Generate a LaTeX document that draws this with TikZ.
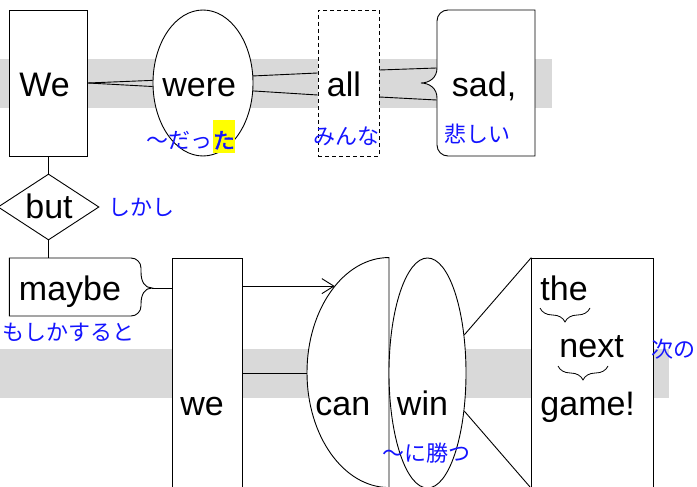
\documentclass[tikz,border=0pt]{standalone}
\usepackage{fontspec}
\setmainfont{Liberation Sans}
\newfontfamily\jpFont[AutoFakeBold=2]{Noto Sans CJK JP}
\usetikzlibrary{shapes.geometric,arrows.meta,decorations.pathreplacing}

\definecolor{bandColor}{RGB}{217,217,217}
\definecolor{noteColor}{RGB}{20,20,255}
\definecolor{markColor}{RGB}{255,255,0}

\begin{document}
\begin{tikzpicture}[x=1pt,y=-1pt,line width=0.9pt,
    word/.style={inner sep=0pt,font=\fontsize{34}{34}\selectfont},
    note/.style={inner sep=0pt,text=noteColor,font=\jpFont\fontsize{22}{22}\selectfont},
    box/.style={draw,fill=white,inner sep=0pt},
    brace/.style={decorate,decoration={brace,mirror,amplitude=14pt},line width=0.8pt}]
  \useasboundingbox (0,0) rectangle (697,487);
  \clip (0,0) rectangle (697,487);
  % Bands
  \fill[bandColor] (0,59) rectangle (552,108);
  \fill[bandColor] (0,349) rectangle (669,398);
  % Top row
  \node[box,rectangle,minimum width=78pt,minimum height=146pt] (We) at (48.5,83) {};
  \node[box,ellipse,minimum width=100pt,minimum height=146pt] (were) at (203,83) {};
  \node[box,rectangle,dash pattern=on 4pt off 3pt,minimum width=61pt,minimum height=146pt] (all) at (348.5,83) {};
  \node[inner sep=0pt,minimum width=98pt,minimum height=146pt] (sad) at (486,83) {};
  \draw[fill=white] (535,10) -- (448,10) arc[start angle=90,end angle=180,radius=11pt] -- (437,68)
    .. controls (437,78) and (429,83) .. (421,83) .. controls (429,83) and (437,88) .. (437,98)
    -- (437,145) arc[start angle=180,end angle=270,radius=11pt] -- (535,156) -- cycle;
  \node[box,diamond,minimum width=101pt,minimum height=66pt] (but) at (48.5,207) {};
  % Bottom row
  \node[inner sep=0pt,minimum width=132pt,minimum height=58pt] (maybe) at (75.5,287) {};
  \draw[fill=white] (9.3,258) -- (131,258) arc[start angle=90,end angle=0,radius=10pt] -- (141,272)
    .. controls (141,282) and (145,288) .. (152,288) .. controls (145,288) and (141,294) .. (141,304)
    -- (141,306) arc[start angle=0,end angle=-90,radius=10pt] -- (9.3,316) -- cycle;
  \coordinate (maybeTip) at (152,288);
  \node[box,rectangle,minimum width=70pt,minimum height=230pt] (we) at (207,373) {};
  \node[inner sep=0pt,ellipse,minimum width=164pt,minimum height=230pt] (can) at (389,373) {};
  \draw[fill=white] (can.north) arc[start angle=90,end angle=270,x radius=82pt,y radius=115pt] -- cycle;
  \node[box,ellipse,minimum width=77pt,minimum height=230pt] (win) at (427.5,373) {};
  \node[box,rectangle,minimum width=121.5pt,minimum height=230pt] (phrase) at (592.5,373) {};
  % Connectors
  \draw (We.east) -- (were.177);
  \draw (We.east) -- (were.184);
  \draw (were.8) -- ([yshift=10pt]all.west);
  \draw (were.-9) -- ([yshift=-12pt]all.west);
  \draw ([yshift=13pt]all.east) -- ([yshift=15pt]sad.west);
  \draw ([yshift=-14pt]all.east) -- ([yshift=-17pt]sad.west);
  \draw (We.south) -- (but.north);
  \draw (but.south) -- (but.south |- maybe.north);
  \draw (maybeTip) -- (maybeTip -| we.west);
  \draw[-{Straight Barb[length=12pt,width=15pt]}] (we.east |- can.122.8) -- (can.122.8);
  \draw (we.east |- can.west) -- (can.west);
  \draw (win.46) -- (phrase.north west);
  \draw (win.-46) -- (phrase.south west);
  % Words
  \node[word,anchor=base west] (tWe) at (19,97) {We};
  \node[word,anchor=base west] (tWere) at (162,97) {were};
  \node[word,anchor=base west] (tAll) at (326.5,97) {all};
  \node[word,anchor=base west] (tSad) at (451.5,97) {sad,};
  \node[word,anchor=base] (tBut) at (49,218) {but};
  \node[word,anchor=base west] (tMaybe) at (18.5,300) {maybe};
  \node[word,anchor=base west] (tWe2) at (180,415) {we};
  \node[word,anchor=base west] (tCan) at (315,415) {can};
  \node[word,anchor=base west] (tWin) at (396.5,415) {win};
  \node[word,anchor=base west] (tThe) at (540,300) {the};
  \node[word,anchor=base west] (tNext) at (559,357) {next};
  \node[word,anchor=base west] (tGame) at (540,415) {game!};
  \draw[brace] (540,308) -- (590,308);
  \draw[brace] (558,366) -- (608,366);
  % Notes
  \node[note,fill=markColor,minimum width=22pt,text height=28.5pt,text depth=4.5pt,
    font=\jpFont\bfseries\fontsize{22}{22}\selectfont,anchor=base] (jTa) at (224,148.5) {た};
  \node[note,anchor=base east] (jWere) at (jTa.base west) {〜だっ};
  \node[note] (jAll) at (346,136) {みんな};
  \node[note] (jSad) at (477,134) {悲しい};
  \node[note] (jBut) at (141,207) {しかし};
  \node[note] (jMaybe) at (68.5,332) {もしかすると};
  \node[note] (jNext) at (673,349) {次の};
  \node[note] (jWin) at (426,453) {〜に勝つ};
\end{tikzpicture}
\end{document}
